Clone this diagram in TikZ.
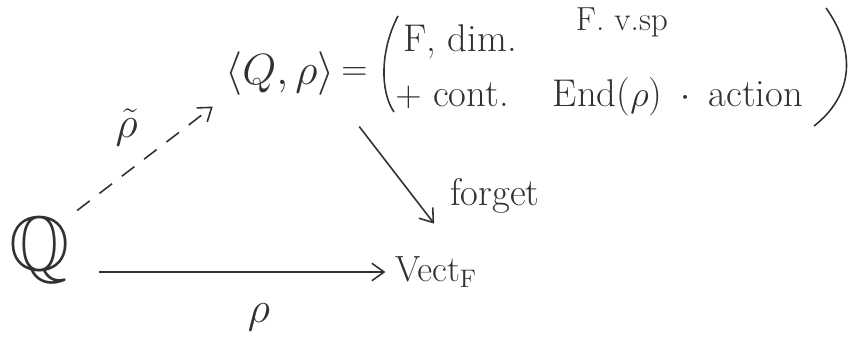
\documentclass[tikz,border=0pt]{standalone}
\definecolor{penink}{RGB}{48,48,54}
\usepackage{amsmath,amssymb}
\usepackage{tikz}
\usetikzlibrary{arrows.meta,positioning,calc}

\begin{document}
\begin{tikzpicture}[x=0.02cm, y=-0.02cm, penink, line width=0.9pt,
    mor/.style={-{Straight Barb[length=7pt,width=10pt]}},
    big/.style={font=\fontsize{30}{34}\selectfont, inner sep=2pt},
    mid/.style={font=\fontsize{22}{26}\selectfont, inner sep=1pt},
    small/.style={font=\fontsize{19}{22}\selectfont, inner sep=1pt}]
    \useasboundingbox (0,0) rectangle (863,351);

    % objects
    \node[font=\fontsize{44}{48}\selectfont, inner sep=2pt] (quiv) at (40,250) {$\mathbb{Q}$};
    \node[big] (pair) at (280,74) {$\langle Q,\rho\rangle$};
    \node[mid, right=0pt of pair] (eq) {$=$};
    \node[mid] (vect) at (436,272) {$\mathrm{Vect}_{\mathrm{F}}$};
    \coordinate (vtop) at ($(vect.north)!.5!(vect.north east)$);

    % the bracket
    \draw (398,16) .. controls (380,50) and (380,92) .. (394,112);
    \draw (826,8) .. controls (856,50) and (854,95) .. (814,126);
    \node[mid] (fdim) at (460,42) {F, dim.};
    \node[small] (fvsp) at (622,22) {F. v.sp};
    \node[mid] (cont) at (452,96) {$+$ cont.};
    \node[mid] (endrho) at (678,97) {End($\rho$) \,$\cdot$\, action};

    % arrows
    \draw[mor, dashed, dash pattern=on 9pt off 7pt, shorten <=2pt, shorten >=6pt] (quiv.north east) -- (pair.south west)
        node[midway, above left=2pt and 2pt, font=\fontsize{44}{48}\selectfont] {$\tilde{\rho}$};
    \draw[mor, shorten <=14pt, shorten >=4pt] (quiv.east |- vect.west) -- (vect.west)
        node[pos=.58, below=14pt, font=\fontsize{38}{42}\selectfont] {$\rho$};
    \draw[mor, shorten <=19pt, shorten >=22pt] (pair.south east) -- (vtop)
        node[pos=.62, right=20pt, mid] {forget};
\end{tikzpicture}
\end{document}
